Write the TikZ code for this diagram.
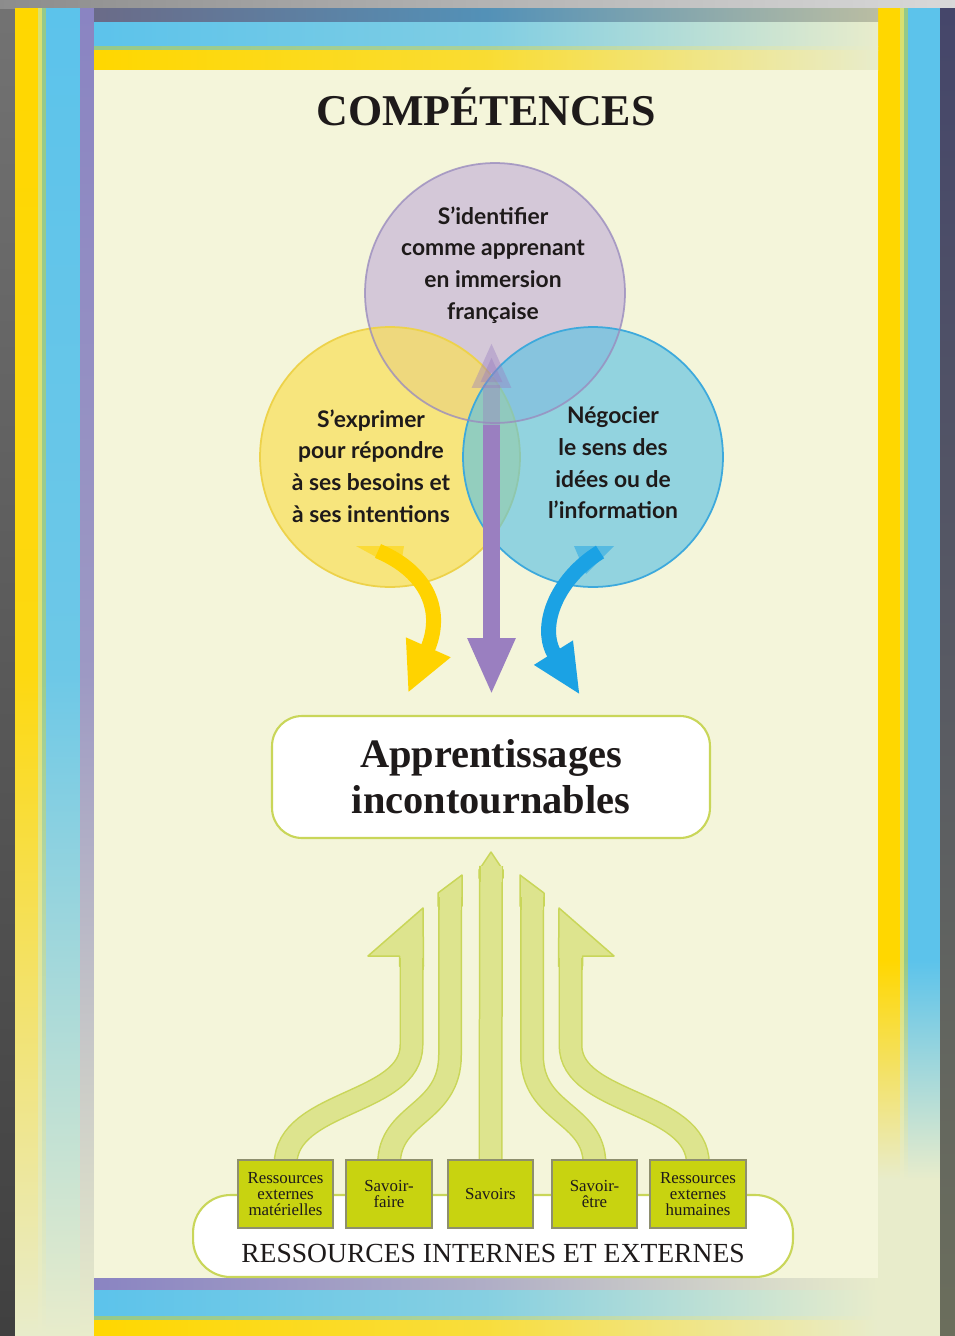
\documentclass[tikz,border=0pt]{standalone}
\usepackage{fontspec}
\setmainfont{Liberation Serif}
\newfontfamily\circfont{Lato}
\usepackage{xcolor}
\usetikzlibrary{
  arrows.meta,
  positioning,
  calc
}
\definecolor{CPcream}{HTML}{F4F5DA}
\definecolor{CPpale}{HTML}{E8ECCB}
\definecolor{CPyellow}{HTML}{FFD700}
\definecolor{CPlightY}{HTML}{D9E070}
\definecolor{CPgreen}{HTML}{95C98A}
\definecolor{CPblue}{HTML}{5CC3EB}
\definecolor{CPpurple}{HTML}{8A84C2}
\definecolor{CPnavy}{HTML}{45466A}
\definecolor{CPolive}{HTML}{6B6E5C}
\definecolor{CPink}{HTML}{1E1A1A}
\definecolor{CPcircP}{HTML}{D4C8D8}
\definecolor{CPcircY}{HTML}{F9DF5A}
\definecolor{CPcircB}{HTML}{5EC2E2}
\definecolor{CPedgeP}{HTML}{9A8CBE}
\definecolor{CPedgeY}{HTML}{EDD24A}
\definecolor{CPedgeB}{HTML}{3DA9DC}
\definecolor{CParrP}{HTML}{9A7FC0}
\definecolor{CParrY}{HTML}{FFD300}
\definecolor{CParrB}{HTML}{1BA2E4}
\definecolor{CPlime}{HTML}{DDE48E}
\definecolor{CPlimeedge}{HTML}{C9D659}
\definecolor{CPbox}{HTML}{C8D310}
\definecolor{CPboxedge}{HTML}{8E8F6E}

\begin{document}
\begin{tikzpicture}[
      x=0.02cm, y=-0.02cm,
      compcirc/.style={
        circle, minimum size=5.2cm, inner sep=0pt, line width=1pt
      },
      circtext/.style={
        align=center, text=CPink,
        font=\circfont\bfseries\fontsize{13}{18}\selectfont
      },
      resbox/.style={
        rectangle, fill=CPbox, draw=CPboxedge, line width=0.8pt,
        minimum height=1.36cm, align=center, inner sep=1pt,
        text=CPink, font=\fontsize{9.6}{9}\selectfont
      },
      limearr/.style={draw=CPlimeedge, line width=0.03cm, double=CPlime, double distance=0.42cm},
      limehead/.style={fill=CPlime, draw=CPlimeedge, line width=0.03cm, line join=round},
      colarr/.style={line width=0.3cm}
    ]
    \useasboundingbox (0,0) rectangle (955,1336);

    % Frame and background
    \shade[top color=black!55, bottom color=black!75] (0,0) rectangle (955,1336);
    \shade[left color=black!45, right color=black!15] (0,0) rectangle (955,8);
    % left side strips
    \shade[top color=CPyellow, bottom color=CPpale, middle color=CPyellow!92!CPpale] (15,8) rectangle (38,1336);
    \shade[top color=CPlightY, bottom color=CPpale, middle color=CPlightY!92!CPpale] (38,8) rectangle (42,1336);
    \shade[top color=CPgreen, bottom color=CPpale, middle color=CPgreen!92!CPpale] (42,8) rectangle (46,1336);
    \shade[top color=CPblue, bottom color=CPpale, middle color=CPblue!88!CPpale] (46,8) rectangle (80,1336);
    \shade[top color=CPpurple, bottom color=CPpale, middle color=CPpurple!80!CPpale] (80,8) rectangle (94,1336);
    % right side strips
    \fill[CPyellow] (878,8) rectangle (900,960);
    \fill[CPlightY] (900,8) rectangle (904,960);
    \fill[CPgreen] (904,8) rectangle (908,960);
    \fill[CPblue] (908,8) rectangle (940,960);
    \shade[top color=CPyellow, bottom color=CPpale] (878,960) rectangle (900,1180);
    \shade[top color=CPlightY, bottom color=CPpale] (900,960) rectangle (904,1180);
    \shade[top color=CPgreen, bottom color=CPpale] (904,960) rectangle (908,1180);
    \shade[top color=CPblue, bottom color=CPpale] (908,960) rectangle (940,1180);
    \fill[CPpale] (878,1180) rectangle (940,1336);
    \shade[top color=CPnavy, bottom color=CPolive] (940,8) rectangle (955,1336);

    % Top band
    \shade[left color=CPnavy!80, right color=CPpale!80!black, middle color=CPnavy!40!CPblue] (94,8) rectangle (878,22);
    \shade[left color=CPblue, right color=CPpale, middle color=CPblue!75!CPpale] (94,22) rectangle (878,46);
    \shade[left color=CPgreen, right color=CPpale, middle color=CPgreen!75!CPpale] (94,46) rectangle (878,50);
    \shade[left color=CPyellow, right color=CPpale, middle color=CPyellow!75!CPpale] (94,50) rectangle (878,70);

    % Panel
    \fill[CPcream] (94,70) rectangle (878,1278);

    % Bottom band
    \shade[left color=CPpurple, right color=CPpale, middle color=CPpurple!60!CPpale] (94,1278) rectangle (878,1290);
    \shade[left color=CPblue, right color=CPpale, middle color=CPblue!70!CPpale] (94,1290) rectangle (878,1316);
    \shade[left color=CPgreen, right color=CPpale, middle color=CPgreen!70!CPpale] (94,1316) rectangle (878,1320);
    \shade[left color=CPyellow, right color=CPpale, middle color=CPyellow!70!CPpale] (94,1320) rectangle (878,1336);

    % Title
    \node[text=CPink, font=\bfseries\fontsize{25}{28}\selectfont] (title) at (486,107) {COMPÉTENCES};

    % Circles
    \node[compcirc, fill=CPcircP] (ident) at (495,293) {};
    \node[compcirc, fill=CPcircY, fill opacity=0.72, draw=CPedgeY] (expr) at (390,457) {};
    \node[compcirc, fill=CPcircB, fill opacity=0.65, draw=CPedgeB] (nego) at (593,457) {};
    \node[compcirc, draw=CPedgeP, draw opacity=0.8] at (ident) {};

    % Arrows from the circles
    \coordinate (ptop) at (491.5,342);
    \coordinate (pmid) at (491.5,425);
    \coordinate (ptip) at (491.5,695);
    \coordinate (ystart) at (378,551);
    \coordinate (ytip) at (408,693);
    \coordinate (bstart) at (600,552);
    \coordinate (btip) at (580,695);

    \draw[CParrP, opacity=0.4, line width=0.34cm, -{Triangle[width=0.72cm, length=0.92cm]}]
      (pmid) -- (ptop);
    \draw[CParrP, line width=0.34cm, -{Triangle[width=0.88cm, length=1.14cm]}]
      (pmid) -- (ptip);

    \fill[CParrY, opacity=0.55] (356,546) -- (404,546) -- (400,570) -- cycle;
    \draw[CParrY, colarr, -{Triangle[width=0.9cm, length=1cm]}]
      (ystart) .. controls (428,572) and (444,612) .. (ytip);

    \fill[CParrB, opacity=0.5] (574,546) -- (614,546) -- (586,574) -- cycle;
    \draw[CParrB, colarr, -{Triangle[width=0.84cm, length=1cm]}]
      (bstart) .. controls (555,580) and (538,628) .. (btip);

    % Circle texts
    \node[circtext] (identtxt) at (493,265) {S’identifier\\comme apprenant\\en immersion\\française};
    \node[circtext] (exprtxt) at (371,466) {S’exprimer\\pour répondre\\à ses besoins et\\à ses intentions};
    \node[circtext] (negotxt) at (613,463) {Négocier\\le sens des\\idées ou de\\l’information};

    % Central box
    \node[rectangle, rounded corners=0.6cm, fill=white, draw=CPlimeedge, line width=1.2pt,
          minimum width=8.76cm, minimum height=2.44cm, align=center, text=CPink,
          font=\bfseries\fontsize{23}{26}\selectfont] (appr) at (491,777)
      {Apprentissages\\incontournables};

    % Resource boxes
    \node[resbox, minimum width=1.9cm]  (rb1) at (285.5,1194) {Ressources\\externes\\matérielles};
    \node[resbox, minimum width=1.72cm] (rb2) at (389,1194) {Savoir-\\faire};
    \node[resbox, minimum width=1.7cm]  (rb3) at (490.5,1194) {Savoirs};
    \node[resbox, minimum width=1.7cm]  (rb4) at (594.5,1194) {Savoir-\\être};
    \node[resbox, minimum width=1.92cm] (rb5) at (698,1194) {Ressources\\externes\\humaines};

    % Rising arrows
    \coordinate (l1top) at (411.5,958);
    \coordinate (l2top) at (450,897);
    \coordinate (ctop) at (491,866);
    \coordinate (r2top) at (532,897);
    \coordinate (r1top) at (570.5,958);

    \draw[limearr] ([yshift=-0.1cm]rb1.north) .. controls (286,1100) and (411.5,1105) .. (411.5,1045) -- (l1top);
    \draw[limearr] ([yshift=-0.1cm]rb2.north) .. controls (389,1112) and (450,1115) .. (450,1055) -- (l2top);
    \draw[limearr] ([yshift=-0.1cm]rb3.north) -- (ctop);
    \draw[limearr] ([yshift=-0.1cm]rb4.north) .. controls (594.5,1112) and (532,1115) .. (532,1055) -- (r2top);
    \draw[limearr] ([yshift=-0.1cm]rb5.north) .. controls (698,1100) and (570.5,1105) .. (570.5,1045) -- (r1top);

    \filldraw[limehead] (423,908) -- (368,956) -- (399.5,956) -- (399.5,966) -- (423.5,966) -- cycle;
    \filldraw[limehead] (438,893) -- (462,875) -- (462,906) -- (438,906) -- cycle;
    \filldraw[limehead] (479,870) -- (491,852) -- (503,870) -- (503,878) -- (479,878) -- cycle;
    \filldraw[limehead] (520,875) -- (544,893) -- (544,906) -- (520,906) -- cycle;
    \filldraw[limehead] (559,908) -- (614,956) -- (582.5,956) -- (582.5,966) -- (558.5,966) -- cycle;
    \draw[limearr] (411.5,970) -- (l1top);
    \draw[limearr] (450,910) -- (l2top);
    \draw[limearr] (491,882) -- (ctop);
    \draw[limearr] (532,910) -- (r2top);
    \draw[limearr] (570.5,970) -- (r1top);

    % Resources base
    \node[rectangle, rounded corners=0.75cm, fill=white, draw=CPlimeedge, line width=1.2pt,
          minimum width=12cm, minimum height=1.64cm] (resbase) at (493,1236) {};
    \node[text=CPink, font=\fontsize{15.7}{18}\selectfont] (reslbl) at (493,1253)
      {RESSOURCES INTERNES ET EXTERNES};

    % boxes again on top of the base
    \node[resbox, minimum width=1.9cm]  at (rb1) {Ressources\\externes\\matérielles};
    \node[resbox, minimum width=1.72cm] at (rb2) {Savoir-\\faire};
    \node[resbox, minimum width=1.7cm]  at (rb3) {Savoirs};
    \node[resbox, minimum width=1.7cm]  at (rb4) {Savoir-\\être};
    \node[resbox, minimum width=1.92cm] at (rb5) {Ressources\\externes\\humaines};
  \end{tikzpicture}
\end{document}
